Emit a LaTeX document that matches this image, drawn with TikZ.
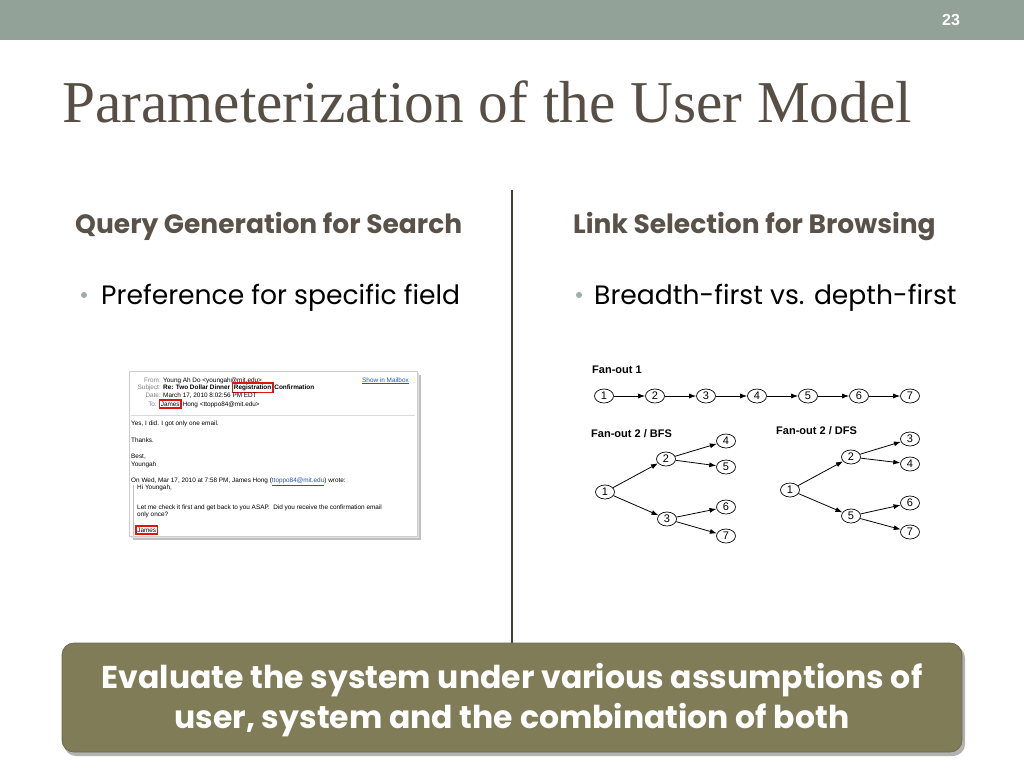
\documentclass[tikz,border=0pt]{standalone}
\usepackage{fontspec}
\setmainfont{Liberation Serif}
\newfontfamily\gothic{Poppins}
\newfontfamily\helv{Liberation Sans}
\usetikzlibrary{arrows.meta,shapes.geometric}
\definecolor{barcol}{RGB}{147,162,153}
\definecolor{titlecol}{RGB}{87,79,69}
\definecolor{headcol}{RGB}{90,82,73}
\definecolor{boxcol}{RGB}{128,124,87}
\definecolor{bulcol}{RGB}{160,172,166}
\definecolor{lblgray}{RGB}{130,130,130}
\definecolor{linkblue}{RGB}{40,80,190}
\definecolor{redbox}{RGB}{220,20,20}
\tikzset{
  txt/.style={inner sep=0pt, anchor=base west},
  heading/.style={txt, text=headcol, font=\gothic\bfseries\fontsize{26.5}{30}\selectfont},
  bullet/.style={txt, text=black, font=\gothic\fontsize{26.6}{30}\selectfont},
  bdot/.style={circle, fill=bulcol, inner sep=0pt, minimum size=6pt},
  mail/.style={txt, font=\helv\fontsize{6.4}{7}\selectfont},
  mailb/.style={txt, font=\helv\bfseries\fontsize{6.4}{7}\selectfont},
  mlbl/.style={inner sep=0pt, anchor=base east, text=lblgray, font=\helv\fontsize{6.4}{7}\selectfont},
  redmark/.style={draw=redbox, line width=1.8pt, inner xsep=1.4pt, inner ysep=1.7pt, anchor=base west},
  gnode/.style={draw, ellipse, minimum width=19pt, minimum height=14pt, inner sep=0pt, line width=0.7pt, font=\helv\fontsize{11}{11}\selectfont},
  garr/.style={-{Latex[length=7pt,width=5pt]}, line width=0.8pt},
  glabel/.style={txt, font=\helv\bfseries\fontsize{11}{11}\selectfont}
}
\begin{document}
\begin{tikzpicture}[x=1pt,y=-1pt]
\useasboundingbox (0,0) rectangle (1024,768);
\fill[white] (0,0) rectangle (1024,768);
% top bar
\fill[barcol] (0,0) rectangle (1024,40);
\node[inner sep=0pt, text=white, font=\helv\bfseries\fontsize{16}{16}\selectfont] (pnum) at (951,20) {23};
% title
\node[txt, text=titlecol, font=\fontsize{59.3}{64}\selectfont] (title) at (62,122) {Parameterization of the User Model};
% divider
\draw[line width=1.6pt, color=titlecol!80!black] (512,190) -- (512,643);
% headings
\node[heading] (h1) at (75,233) {Query Generation for Search};
\node[heading] (h2) at (573,233) {Link Selection for Browsing};
\node[bdot] (b1) at (84,295) {};
\node[bullet] (t1) at (101,304) {Preference for specific field};
\node[bdot] (b2) at (579,295) {};
\node[bullet] (t2) at (594,304) {Breadth-first vs. depth-first};

% email screenshot
\fill[black!25] (133,375) rectangle (421,540);
\fill[black!12] (131,373) rectangle (419,538);
\draw[black!20, fill=white] (129,371) rectangle (417,536);
\node[mlbl] (lf) at (161,382) {From:};
\node[mail] (vf) at (163,382) {Young Ah Do <youngah@mit.edu>};
\node[mlbl] (ls) at (161,389.5) {Subject:};
\node[mailb] (vs) at (163,389.5) {Re: Two Dollar Dinner};
\node[mailb, redmark] (reg) at ([xshift=1.3pt]vs.base east) {Registration};
\node[mailb] (vs2) at ([xshift=0.6pt]reg.base east) {Confirmation};
\node[mlbl] (ld) at (161,397) {Date:};
\node[mail] (vd) at (163,397) {March 17, 2010 8:02:56 PM EDT};
\node[mlbl] (lt) at (157,406) {To:};
\node[mail, redmark] (jt) at (158.5,406) {James};
\node[mail] (vt) at ([xshift=0.6pt]jt.base east) {Hong <ttoppo84@mit.edu>};
\node[mail, text=linkblue] (show) at (362,382) {\underline{Show in Mailbox}};
\draw[black!15, line width=0.6pt] (131,415) -- (415,415);
\node[mail] (m1) at (131,425.5) {Yes, I did. I got only one email.};
\node[mail] (m2) at (131,442) {Thanks.};
\node[mail] (m3) at (131,458.5) {Best,};
\node[mail] (m4) at (131,466.5) {Youngah};
\node[mail] (m5) at (131,482.5) {On Wed, Mar 17, 2010 at 7:58 PM, James Hong (\textcolor{linkblue}{\underline{ttoppo84@mit.edu}}) wrote:};
\draw[black!25, line width=0.8pt] (133,485) -- (133,536);
\node[mail] (m6) at (137,489.5) {Hi Youngah,};
\node[mail] (m7) at (137,509) {Let me check it first and get back to you ASAP.\ \ Did you receive the confirmation email};
\node[mail] (m8) at (137,516.5) {only once?};
\node[mail, redmark] (m9) at (135,532) {James};

% Fan-out 1
\node[glabel] (f1) at (592,373) {Fan-out 1};
\node[gnode] (a1) at (604,396) {1};
\node[gnode] (a2) at (655,396) {2};
\node[gnode] (a3) at (706,396) {3};
\node[gnode] (a4) at (757,396) {4};
\node[gnode] (a5) at (808,396) {5};
\node[gnode] (a6) at (859,396) {6};
\node[gnode] (a7) at (910,396) {7};
\draw[garr] (a1) -- (a2);
\draw[garr] (a2) -- (a3);
\draw[garr] (a3) -- (a4);
\draw[garr] (a4) -- (a5);
\draw[garr] (a5) -- (a6);
\draw[garr] (a6) -- (a7);
% BFS
\node[glabel] (f2) at (591,437) {Fan-out 2 / BFS};
\node[gnode] (b1n) at (605,492) {1};
\node[gnode] (b2n) at (666,459) {2};
\node[gnode] (b3n) at (667,519) {3};
\node[gnode] (b4n) at (726,441) {4};
\node[gnode] (b5n) at (726,467) {5};
\node[gnode] (b6n) at (726,507) {6};
\node[gnode] (b7n) at (726,536) {7};
\draw[garr] (b1n) -- (b2n);
\draw[garr] (b1n) -- (b3n);
\draw[garr] (b2n) -- (b4n);
\draw[garr] (b2n) -- (b5n);
\draw[garr] (b3n) -- (b6n);
\draw[garr] (b3n) -- (b7n);
% DFS
\node[glabel] (f3) at (776,434) {Fan-out 2 / DFS};
\node[gnode] (d1n) at (790,490) {1};
\node[gnode] (d2n) at (851,457) {2};
\node[gnode] (d5n) at (851,516) {5};
\node[gnode] (d3n) at (910,439) {3};
\node[gnode] (d4n) at (910,464) {4};
\node[gnode] (d6n) at (910,503) {6};
\node[gnode] (d7n) at (910,532) {7};
\draw[garr] (d1n) -- (d2n);
\draw[garr] (d1n) -- (d5n);
\draw[garr] (d2n) -- (d3n);
\draw[garr] (d2n) -- (d4n);
\draw[garr] (d5n) -- (d6n);
\draw[garr] (d5n) -- (d7n);

% bottom box
\fill[black!30, rounded corners=12pt] (64,646) rectangle (965,756);
\node[draw=boxcol!85!black, line width=0.8pt, fill=boxcol, rounded corners=12pt, minimum width=900pt, minimum height=109pt, inner sep=0pt] (bbox) at (512,697.5) {};
\node[inner sep=0pt, align=center, text=white, font=\gothic\bfseries\fontsize{31.5}{40}\selectfont] (btext) at (512,700) {Evaluate the system under various assumptions of\\user, system and the combination of both};
\end{tikzpicture}
\end{document}
